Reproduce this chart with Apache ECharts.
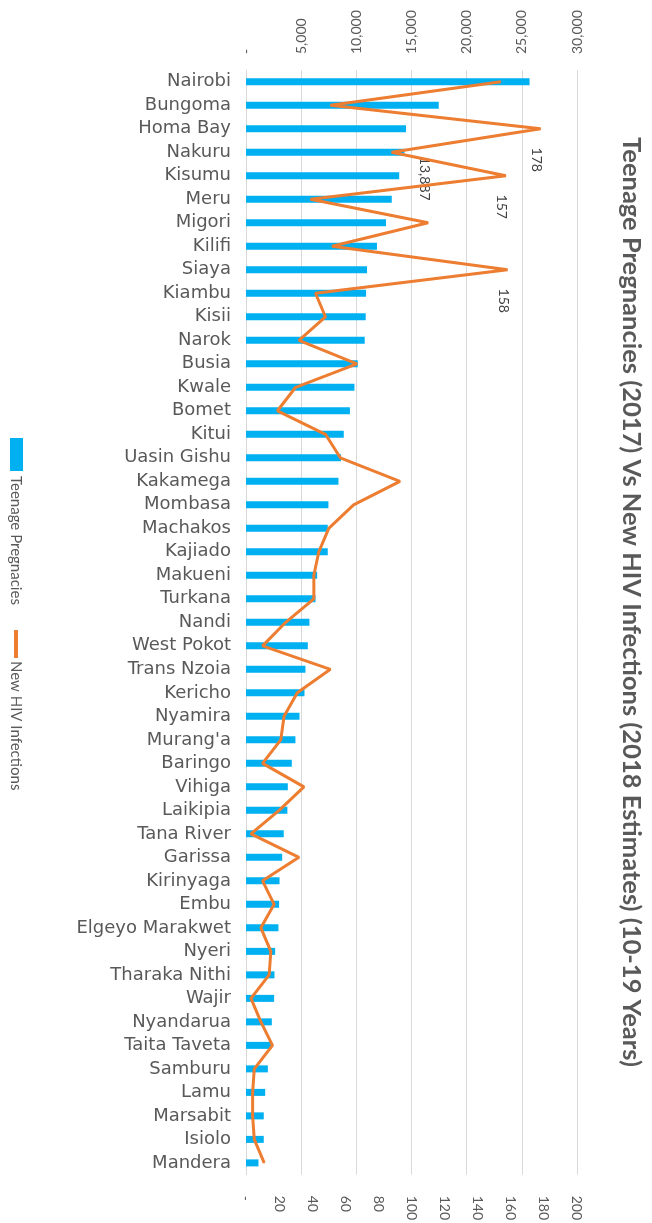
<!DOCTYPE html>
<html>
<head>
<meta charset="utf-8">
<script src="https://cdn.jsdelivr.net/npm/echarts@6/dist/echarts.min.js"></script>
<style>html,body{margin:0;padding:0;background:#fff;}#c{width:652px;height:1223px;}</style>
</head>
<body>
<div id="c"></div>
<script>
const counties = ["Nairobi","Bungoma","Homa Bay","Nakuru","Kisumu","Meru","Migori","Kilifi","Siaya","Kiambu","Kisii","Narok","Busia","Kwale","Bomet","Kitui","Uasin Gishu","Kakamega","Mombasa","Machakos","Kajiado","Makueni","Turkana","Nandi","West Pokot","Trans Nzoia","Kericho","Nyamira","Murang'a","Baringo","Vihiga","Laikipia","Tana River","Garissa","Kirinyaga","Embu","Elgeyo Marakwet","Nyeri","Tharaka Nithi","Wajir","Nyandarua","Taita Taveta","Samburu","Lamu","Marsabit","Isiolo","Mandera"];
const pregnancies = [25700,17470,14500,14360,13887,13210,12690,11870,10970,10880,10850,10760,10130,9830,9420,8860,8610,8380,7470,7410,7410,6450,6300,5750,5600,5390,5300,4850,4480,4150,3790,3750,3420,3280,3040,3000,2940,2640,2580,2550,2340,2300,1980,1740,1610,1610,1130];
const hivInfections = [154,51,178,88,157,39,110,52,158,42,48,32,67,30,19,48,57,93,65,50,44,41,41,24,10,51,31,23,21,10,35,20,3,32,10,17,9,15,14,3,9,16,5,4,4,5,11];
const pregTicks = [0,5000,10000,15000,20000,25000,30000];
const hivTicks = [0,20,40,60,80,100,120,140,160,180,200];
const labelledHiv = ["Homa Bay","Kisumu","Siaya"];
const labelledPreg = ["Kisumu"];
const seriesNames = ["Teenage Pregnacies","New HIV Infections"];
const titleText = "Teenage Pregnancies (2017) Vs New HIV Infections (2018 Estimates) (10-19 Years)";

const fmt = v => v === 0 ? '-' : v.toLocaleString('en-US');
const labelFont = 'Lato';

const barData = pregnancies.map((v, i) => labelledPreg.includes(counties[i]) ? {
  value: v,
  label: { show: true, position: 'right', rotate: -90, align: 'center', verticalAlign: 'middle',
    offset: [3, -20], formatter: p => fmt(p.value), color: '#404040', fontSize: 14, fontFamily: labelFont }
} : v);
const lineData = hivInfections.map((v, i) => labelledHiv.includes(counties[i]) ? {
  value: v,
  label: { show: true, position: 'inside', rotate: -90, align: 'center', verticalAlign: 'middle',
    offset: [31, 4], formatter: p => fmt(p.value), color: '#404040', fontSize: 14, fontFamily: labelFont }
} : v);

const chart = echarts.init(document.getElementById('c'), null, { renderer: 'canvas' });
chart.setOption({
  animation: false,
  backgroundColor: '#ffffff',
  grid: { left: 246, right: 75, top: 70, bottom: 48, containLabel: false },
  xAxis: [
    { type: 'value', position: 'top', min: pregTicks[0], max: pregTicks[pregTicks.length-1], interval: pregTicks[1]-pregTicks[0],
      axisLine: { show: false }, axisTick: { show: false },
      splitLine: { show: true, lineStyle: { color: '#d9d9d9', width: 1 } },
      axisLabel: { rotate: -90, margin: 16, color: '#595959', fontSize: 14, fontFamily: labelFont, formatter: fmt } },
    { type: 'value', position: 'bottom', min: hivTicks[0], max: hivTicks[hivTicks.length-1], interval: hivTicks[1]-hivTicks[0],
      axisLine: { show: false }, axisTick: { show: false }, splitLine: { show: false },
      axisLabel: { rotate: -90, margin: 21, color: '#595959', fontSize: 14, fontFamily: labelFont, formatter: fmt } }
  ],
  yAxis: {
    type: 'category', inverse: true, data: counties,
    axisLine: { show: true, lineStyle: { color: '#d9d9d9' } }, axisTick: { show: false },
    axisLabel: { margin: 15, color: '#595959', fontSize: 18, fontFamily: 'DejaVu Sans' }
  },
  series: [
    { name: seriesNames[0], type: 'bar', xAxisIndex: 0, data: barData, barWidth: 7,
      itemStyle: { color: '#00b0f0' } },
    { name: seriesNames[1], type: 'line', xAxisIndex: 1, data: lineData,
      symbol: 'circle', symbolSize: 1, showSymbol: true,
      lineStyle: { color: '#ed7d31', width: 3 }, itemStyle: { color: '#ed7d31' } }
  ],
  graphic: [
    { type: 'text', x: 631, y: 602, rotation: -Math.PI/2,
      style: { text: titleText, font: 'bold 25.5px Lato', fill: '#595959', align: 'center', verticalAlign: 'middle', textAlign: 'center', textVerticalAlign: 'middle' } },
    { type: 'rect', shape: { x: 10, y: 438, width: 13, height: 33 }, style: { fill: '#00b0f0' } },
    { type: 'text', x: 16, y: 476, rotation: -Math.PI/2,
      style: { text: seriesNames[0], font: '15px Lato', fill: '#595959', align: 'left', verticalAlign: 'middle', textAlign: 'left', textVerticalAlign: 'middle' } },
    { type: 'line', shape: { x1: 16, y1: 630, x2: 16, y2: 658 }, style: { stroke: '#ed7d31', lineWidth: 4 } },
    { type: 'text', x: 16, y: 661, rotation: -Math.PI/2,
      style: { text: seriesNames[1], font: '15px Lato', fill: '#595959', align: 'left', verticalAlign: 'middle', textAlign: 'left', textVerticalAlign: 'middle' } }
  ]
});
</script>
</body>
</html>
